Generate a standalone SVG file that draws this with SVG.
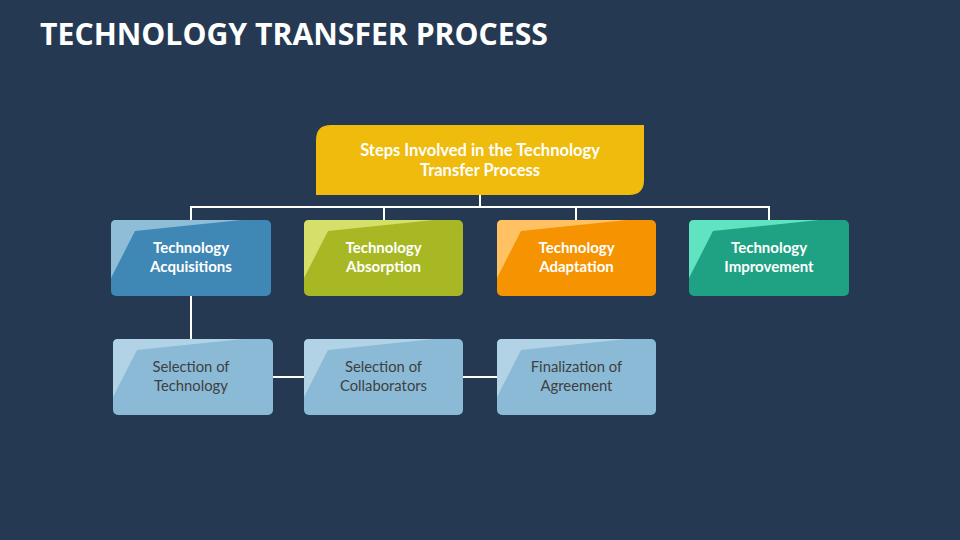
<svg xmlns="http://www.w3.org/2000/svg" width="960" height="540" viewBox="0 0 960 540">
<style>
.bg{fill:#253A52}
.title{font-family:"Open Sans","Liberation Sans",sans-serif;font-weight:700;font-size:31px;fill:#FFFFFF}
.hd{font-family:Lato,"Open Sans",sans-serif;font-weight:700;font-size:16.5px;fill:#FFFFFF;text-anchor:middle}
.lb{font-family:Lato,"Open Sans",sans-serif;font-weight:700;font-size:15px;fill:#FFFFFF;text-anchor:middle}
.sb{font-family:Lato,"Open Sans",sans-serif;font-weight:400;font-size:14.8px;fill:#404040;text-anchor:middle}
.conn line{stroke:#FFFFFF;stroke-width:2;fill:none}
</style>
<defs>
<path id="hl" d="M0,58 L0,5 Q0,0 5,0 L130,0 L24,11 Z"/>
</defs>
<rect class="bg" x="0" y="0" width="960" height="540"/>
<text class="title" x="40" y="45" textLength="508" lengthAdjust="spacingAndGlyphs">TECHNOLOGY TRANSFER PROCESS</text>

<g id="connectors" class="conn">
<line x1="480" y1="195" x2="480" y2="207"/>
<line x1="190" y1="207" x2="770" y2="207"/>
<line x1="191" y1="207" x2="191" y2="220"/>
<line x1="384" y1="207" x2="384" y2="220"/>
<line x1="576" y1="207" x2="576" y2="220"/>
<line x1="769" y1="207" x2="769" y2="220"/>
<line x1="191" y1="296" x2="191" y2="339"/>
<line x1="273" y1="377" x2="304" y2="377"/>
<line x1="463" y1="377" x2="497" y2="377"/>
</g>

<g id="root">
<path d="M331,125 L644,125 L644,180 Q644,195 629,195 L316,195 L316,140 Q316,125 331,125 Z" fill="#EFBB0D"/>
<text class="hd" x="480" y="156">Steps Involved in the Technology</text>
<text class="hd" x="480" y="176">Transfer Process</text>
</g>

<g id="acquisitions" transform="translate(111,220)">
<rect width="160" height="76" rx="5" fill="#3F88B5"/>
<use href="#hl" fill="#8FBDD8"/>
<text class="lb" x="80" y="33">Technology</text>
<text class="lb" x="80" y="52">Acquisitions</text>
</g>

<g id="absorption" transform="translate(304,220)">
<rect width="159" height="76" rx="5" fill="#A8B824"/>
<use href="#hl" fill="#D4E06A"/>
<text class="lb" x="79.5" y="33">Technology</text>
<text class="lb" x="79.5" y="52">Absorption</text>
</g>

<g id="adaptation" transform="translate(497,220)">
<rect width="159" height="76" rx="5" fill="#F59300"/>
<use href="#hl" fill="#FFC161"/>
<text class="lb" x="79.5" y="33">Technology</text>
<text class="lb" x="79.5" y="52">Adaptation</text>
</g>

<g id="improvement" transform="translate(689,220)">
<rect width="160" height="76" rx="5" fill="#1EA283"/>
<use href="#hl" fill="#5FE3C0"/>
<text class="lb" x="80" y="33">Technology</text>
<text class="lb" x="80" y="52">Improvement</text>
</g>

<g id="sel-technology" transform="translate(113,339)">
<rect width="160" height="76" rx="5" fill="#8ABAD6"/>
<use href="#hl" fill="#B2D3E5"/>
<text class="sb" x="78" y="33">Selection of</text>
<text class="sb" x="78" y="52">Technology</text>
</g>

<g id="sel-collaborators" transform="translate(304,339)">
<rect width="159" height="76" rx="5" fill="#8ABAD6"/>
<use href="#hl" fill="#B2D3E5"/>
<text class="sb" x="79.5" y="33">Selection of</text>
<text class="sb" x="79.5" y="52">Collaborators</text>
</g>

<g id="finalization" transform="translate(497,339)">
<rect width="159" height="76" rx="5" fill="#8ABAD6"/>
<use href="#hl" fill="#B2D3E5"/>
<text class="sb" x="79.5" y="33">Finalization of</text>
<text class="sb" x="79.5" y="52">Agreement</text>
</g>
</svg>
